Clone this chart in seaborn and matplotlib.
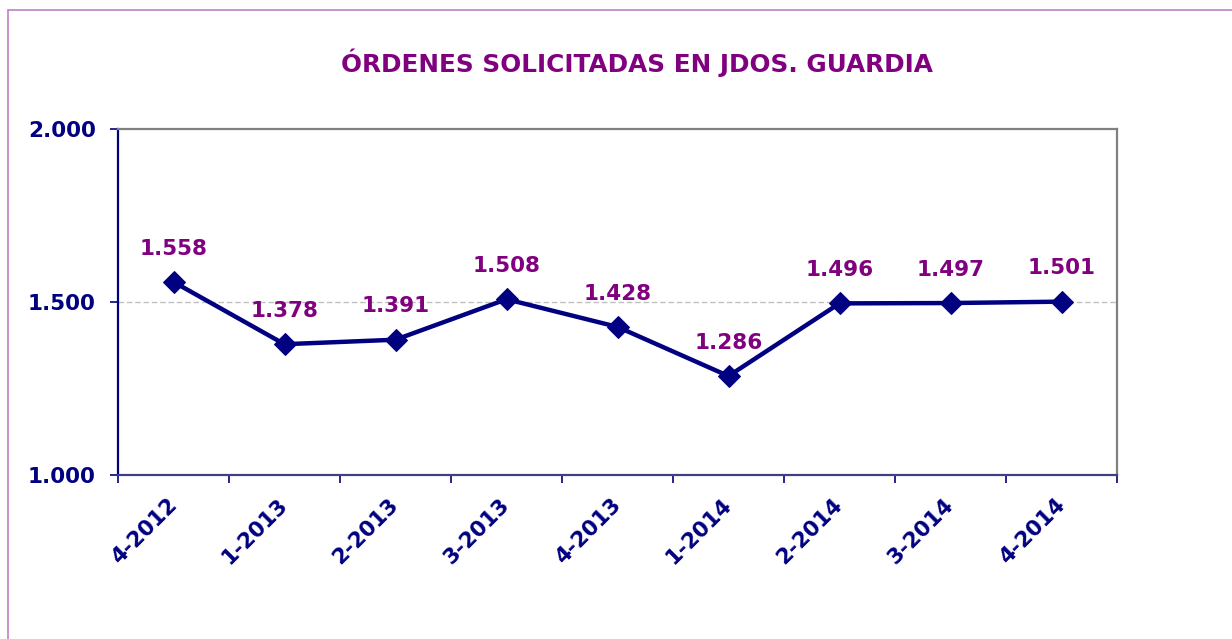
import matplotlib
matplotlib.use("Agg")
import matplotlib.pyplot as plt
import seaborn as sns
from matplotlib.patches import Rectangle
from matplotlib.ticker import FixedLocator

# Data
quarters = ["4-2012", "1-2013", "2-2013", "3-2013", "4-2013",
            "1-2014", "2-2014", "3-2014", "4-2014"]
orders = [1558, 1378, 1391, 1508, 1428, 1286, 1496, 1497, 1501]
y_ticks = [1000, 1500, 2000]

NAVY = "#000080"
PURPLE = "#800080"


def fmt(v):
    return f"{v:,}".replace(",", ".")


def main():
    sns.set_style("white")
    plt.rcParams["font.family"] = ["DejaVu Sans"]

    fig = plt.figure(figsize=(12.32, 6.39), dpi=100)
    ax = fig.add_axes([118 / 1232, 1 - 475 / 639, (1117 - 118) / 1232, (475 - 129) / 639])

    x = list(range(len(quarters)))
    sns.lineplot(x=x, y=orders, ax=ax, color=NAVY, linewidth=3.2,
                 marker="D", markersize=11, markeredgecolor=NAVY)

    for xi, v in zip(x, orders):
        ax.annotate(fmt(v), (xi, v), xytext=(0, 24), textcoords="offset points",
                    ha="center", va="center", color=PURPLE,
                    fontsize=15.5, fontweight="bold")

    ax.set_xlim(-0.5, len(quarters) - 0.5)
    ax.set_ylim(1000, 2000)
    ax.set_yticks(y_ticks)
    ax.set_yticklabels([fmt(v) for v in y_ticks])
    ax.set_xticks(x)
    ax.set_xticklabels(quarters, rotation=45, ha="right", va="center",
                       rotation_mode="anchor")
    ax.xaxis.set_minor_locator(FixedLocator([i - 0.5 for i in range(len(quarters) + 1)]))

    ax.tick_params(axis="x", which="major", length=0, pad=19,
                   labelsize=15.5, labelcolor=NAVY)
    ax.tick_params(axis="x", which="minor", bottom=True, length=6,
                   width=1.2, color=NAVY, direction="out")
    ax.tick_params(axis="y", left=True, length=6, width=1.2, color=NAVY,
                   direction="out", pad=10, labelsize=15.5, labelcolor=NAVY)
    for lab in ax.get_xticklabels() + ax.get_yticklabels():
        lab.set_fontweight("bold")

    ax.axhline(1500, color="#c0c0c0", linestyle=(0, (4, 2)), linewidth=1, zorder=0)

    ax.spines["left"].set_color(NAVY)
    ax.spines["bottom"].set_color("#404080")
    ax.spines["top"].set_color("#808080")
    ax.spines["right"].set_color("#808080")
    for s in ax.spines.values():
        s.set_linewidth(1.6)

    ax.set_xlabel("")
    ax.set_ylabel("")

    fig.text(637 / 1232, 1 - 63 / 639, "ÓRDENES SOLICITADAS EN JDOS. GUARDIA",
             ha="center", va="center", color=PURPLE, fontsize=17.8, fontweight="bold")

    # outer frame
    fig.patches.append(Rectangle((8 / 1232, -0.1), 1.2, 1 - 10 / 639 + 0.1,
                                 transform=fig.transFigure, fill=False,
                                 edgecolor="#c080c0", linewidth=1.2))

    fig.savefig("out.png", dpi=100)


if __name__ == "__main__":
    main()
